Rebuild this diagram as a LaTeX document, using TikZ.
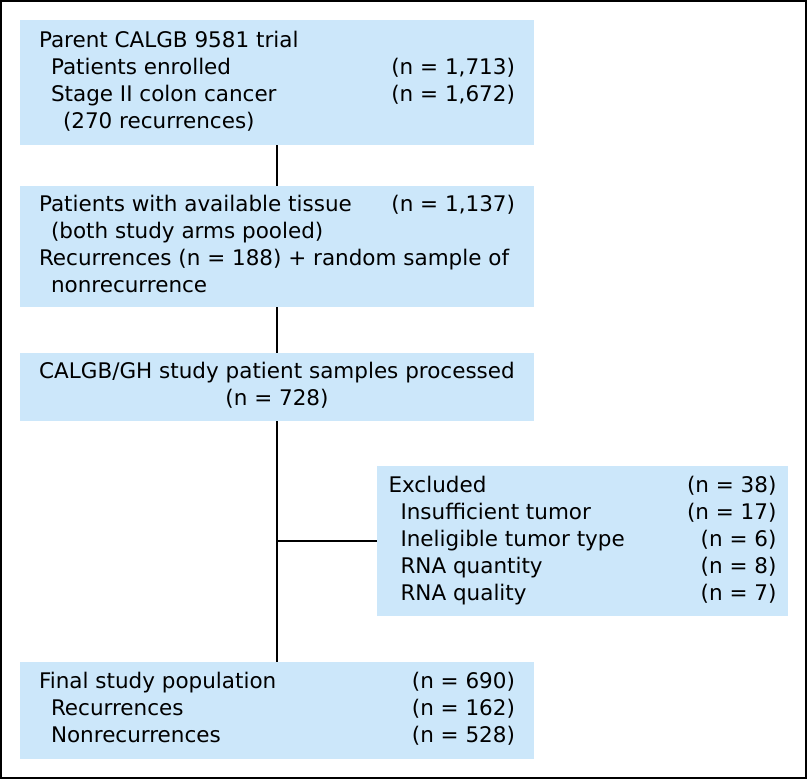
\documentclass[tikz,border=0pt]{standalone}
\usepackage{fontspec}
\setmainfont{DejaVu Sans}
\usepackage{xcolor}
\definecolor{boxblue}{RGB}{204,231,250}
\tikzstyle{block} = [rectangle, fill=boxblue, inner sep=0pt,
   minimum width=514pt, text centered, font=\fontsize{21.5}{27}\selectfont]
\tikzstyle{line} = [draw, line width=2.6pt]
\newcommand{\subind}{\hspace*{12pt}}

\begin{document}
\begin{tikzpicture}[x=1pt, y=-1pt, node distance=164pt]
\useasboundingbox (0,0) rectangle (809,780);
\draw [line width=1.6pt] (1,1) rectangle (806,778);
% Place nodes
\node [block, minimum height=125pt] (parent) at (277,82.5) {%
  \begin{tabular*}{476pt}{@{}l@{\extracolsep{\fill}}r@{}}
  Parent CALGB 9581 trial & \\
  \subind Patients enrolled & (n = 1,713)\\
  \subind Stage II colon cancer & (n = 1,672)\\
  \subind\subind (270 recurrences) &
  \end{tabular*}};
\node [block, below of=parent, minimum height=121pt] (tissue) {%
  \begin{tabular*}{476pt}{@{}l@{\extracolsep{\fill}}r@{}}
  Patients with available tissue & (n = 1,137)\\
  \subind (both study arms pooled) & \\
  \multicolumn{2}{@{}l@{}}{Recurrences (n = 188) + random sample of}\\
  \subind nonrecurrence &
  \end{tabular*}};
\node [block, below of=tissue, node distance=140.5pt, minimum height=68pt] (processed) {%
  \begin{tabular}{@{}c@{}}
  CALGB/GH study patient samples processed\\
  (n = 728)
  \end{tabular}};
\node [block, minimum width=411pt, minimum height=150pt] (excluded) at (582.5,541) {%
  \begin{tabular*}{388pt}{@{}l@{\extracolsep{\fill}}r@{}}
  Excluded & (n = 38)\\
  \subind Insufficient tumor & (n = 17)\\
  \subind Ineligible tumor type & (n = 6)\\
  \subind RNA quantity & (n = 8)\\
  \subind RNA quality & (n = 7)
  \end{tabular*}};
\node [block, below of=processed, node distance=323.5pt, minimum height=97pt] (final) {%
  \begin{tabular*}{476pt}{@{}l@{\extracolsep{\fill}}r@{}}
  Final study population & (n = 690)\\
  \subind Recurrences & (n = 162)\\
  \subind Nonrecurrences & (n = 528)
  \end{tabular*}};
% Draw edges
\path [line] (parent) -- (tissue);
\path [line] (tissue) -- (processed);
\path [line] (processed) -- (final);
\path [line] (excluded) -- (processed.south |- excluded.west);
\end{tikzpicture}
\end{document}
